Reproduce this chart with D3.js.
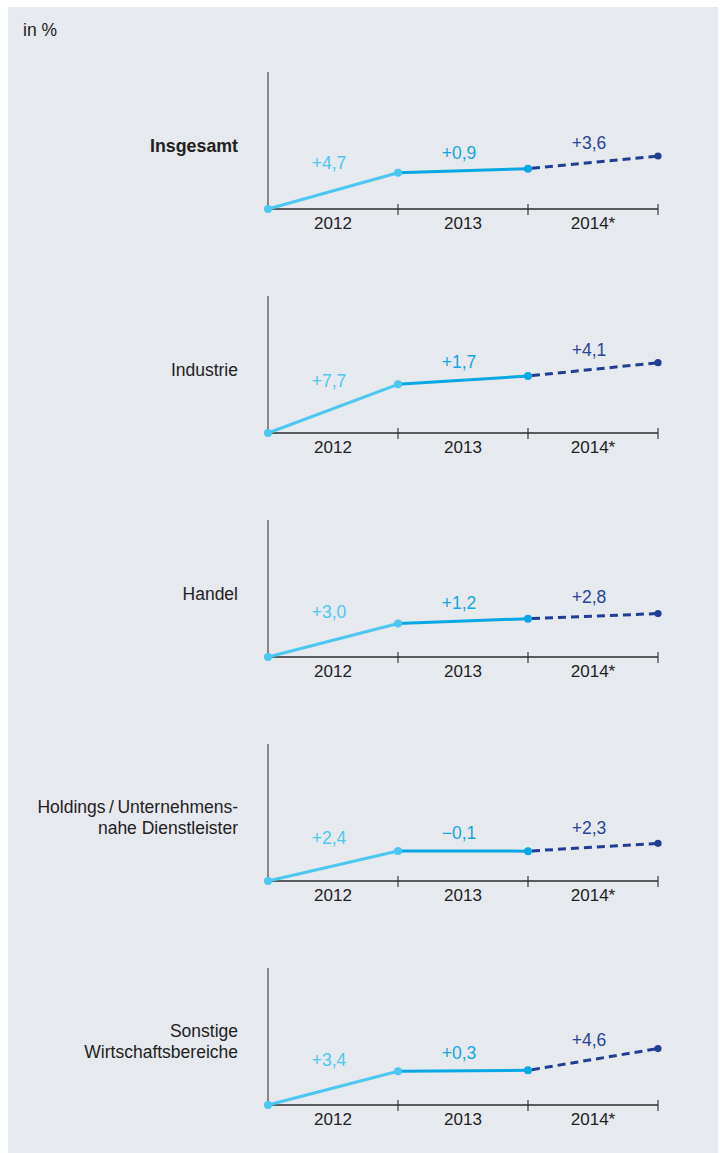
<!DOCTYPE html>
<html>
<head>
<meta charset="utf-8">
<script src="https://cdn.jsdelivr.net/npm/d3@7/dist/d3.min.js"></script>
<style>
  html, body { margin: 0; padding: 0; background: #ffffff; }
  svg { display: block; }
  text { font-family: "Liberation Sans", Arial, Helvetica, sans-serif; }
</style>
</head>
<body>
<svg id="chart" width="720" height="1153"></svg>
<script>
// ---- data ----
const unitLabel = "in %";
const periods = ["2012", "2013", "2014*"];
const categories = [
  ["Insgesamt"],
  ["Industrie"],
  ["Handel"],
  ["Holdings\u2009/\u2009Unternehmens-", "nahe Dienstleister"],
  ["Sonstige", "Wirtschaftsbereiche"]
];
const categoryBold = [true, false, false, false, false];
// growth labels per period (in %)
const growthInsgesamt = ["+4,7", "+0,9", "+3,6"];
const growthIndustrie = ["+7,7", "+1,7", "+4,1"];
const growthHandel    = ["+3,0", "+1,2", "+2,8"];
const growthHoldings  = ["+2,4", "\u22120,1", "+2,3"];
const growthSonstige  = ["+3,4", "+0,3", "+4,6"];
// plotted level (index, top of axis = 100) at start and end of each period, as drawn
const levelInsgesamt = [0, 26.5, 29.4, 38.7];
const levelIndustrie = [0, 35.5, 41.6, 51.3];
const levelHandel    = [0, 24.4, 28.0, 31.7];
const levelHoldings  = [0, 21.9, 21.8, 27.5];
const levelSonstige  = [0, 24.6, 25.3, 41.2];

const growthSeries = [growthInsgesamt, growthIndustrie, growthHandel, growthHoldings, growthSonstige];
const levelSeries  = [levelInsgesamt, levelIndustrie, levelHandel, levelHoldings, levelSonstige];

// ---- styles ----
const bg = "#e6e9ee";
const axisColor = "#2b2b2b";
const textColor = "#222222";
const segColors = ["#4cc7f1", "#08a8e5", "#1f3e94"];
const labelColors = ["#4cc7f1", "#12a7e3", "#26449a"];

const svg = d3.select("#chart");
svg.append("rect").attr("x", 8).attr("y", 7).attr("width", 710).attr("height", 1146).attr("fill", bg);

svg.append("text").attr("x", 23).attr("y", 36)
  .attr("font-size", 17.5).attr("fill", textColor).text(unitLabel);

const x = d3.scaleBand().domain(periods).range([268, 658]).paddingInner(0).paddingOuter(0);
const bw = x.bandwidth();
const axisH = 137;
const y = d3.scaleLinear().domain([0, 100]).range([0, -axisH]);
const panelY = d3.scaleLinear().domain([0, 1]).range([209, 433]);

const labelDy = [-22, -12, -13];

categories.forEach((cat, i) => {
  const base = panelY(i);
  const g = svg.append("g").attr("transform", `translate(0,${base})`);
  const lv = levelSeries[i];
  const pts = lv.map((v, k) => ({ x: k === 0 ? x(periods[0]) : x(periods[k - 1]) + bw, y: y(v) }));

  // vertical axis
  g.append("line").attr("x1", 268).attr("x2", 268).attr("y1", y(100)).attr("y2", 0.5)
    .attr("stroke", "#3a3a3a").attr("stroke-width", 1.1);

  // horizontal axis with ticks
  g.append("line").attr("x1", 268).attr("x2", 658).attr("y1", 0).attr("y2", 0)
    .attr("stroke", axisColor).attr("stroke-width", 1.4);
  periods.forEach(p => {
    g.append("line").attr("x1", x(p) + bw).attr("x2", x(p) + bw).attr("y1", -5).attr("y2", 6)
      .attr("stroke", axisColor).attr("stroke-width", 1.1);
    g.append("text").attr("x", x(p) + bw / 2).attr("y", 19.5).attr("text-anchor", "middle")
      .attr("font-size", 17).attr("fill", textColor).text(p);
  });

  // segments
  for (let k = 0; k < 3; k++) {
    const line = g.append("line")
      .attr("x1", pts[k].x).attr("y1", pts[k].y).attr("x2", pts[k + 1].x).attr("y2", pts[k + 1].y)
      .attr("stroke", segColors[k]).attr("stroke-width", 3);
    if (k === 2) line.attr("stroke-dasharray", "8,5").attr("stroke-dashoffset", -4);
    // label
    const mx = (pts[k].x + pts[k + 1].x) / 2 - 4;
    const my = (pts[k].y + pts[k + 1].y) / 2 + labelDy[k];
    g.append("text").attr("x", mx).attr("y", my).attr("text-anchor", "middle")
      .attr("font-size", 17.5).attr("fill", labelColors[k]).text(growthSeries[i][k]);
  }
  // points
  const ptColors = [segColors[0], segColors[0], segColors[1], segColors[2]];
  pts.forEach((p, k) => {
    g.append("circle").attr("cx", p.x).attr("cy", p.y).attr("r", k === 3 ? 3.6 : 4)
      .attr("fill", ptColors[k]);
  });

  // category label
  const lines = cat;
  const baseDy = lines.length === 1 ? [-57] : [-68, -47];
  lines.forEach((t, j) => {
    g.append("text").attr("x", 238).attr("y", baseDy[j]).attr("text-anchor", "end")
      .attr("font-size", categoryBold[i] ? 17.8 : 17.5)
      .attr("font-weight", categoryBold[i] ? "bold" : "normal")
      .attr("fill", textColor).text(t);
  });
});
</script>
</body>
</html>
